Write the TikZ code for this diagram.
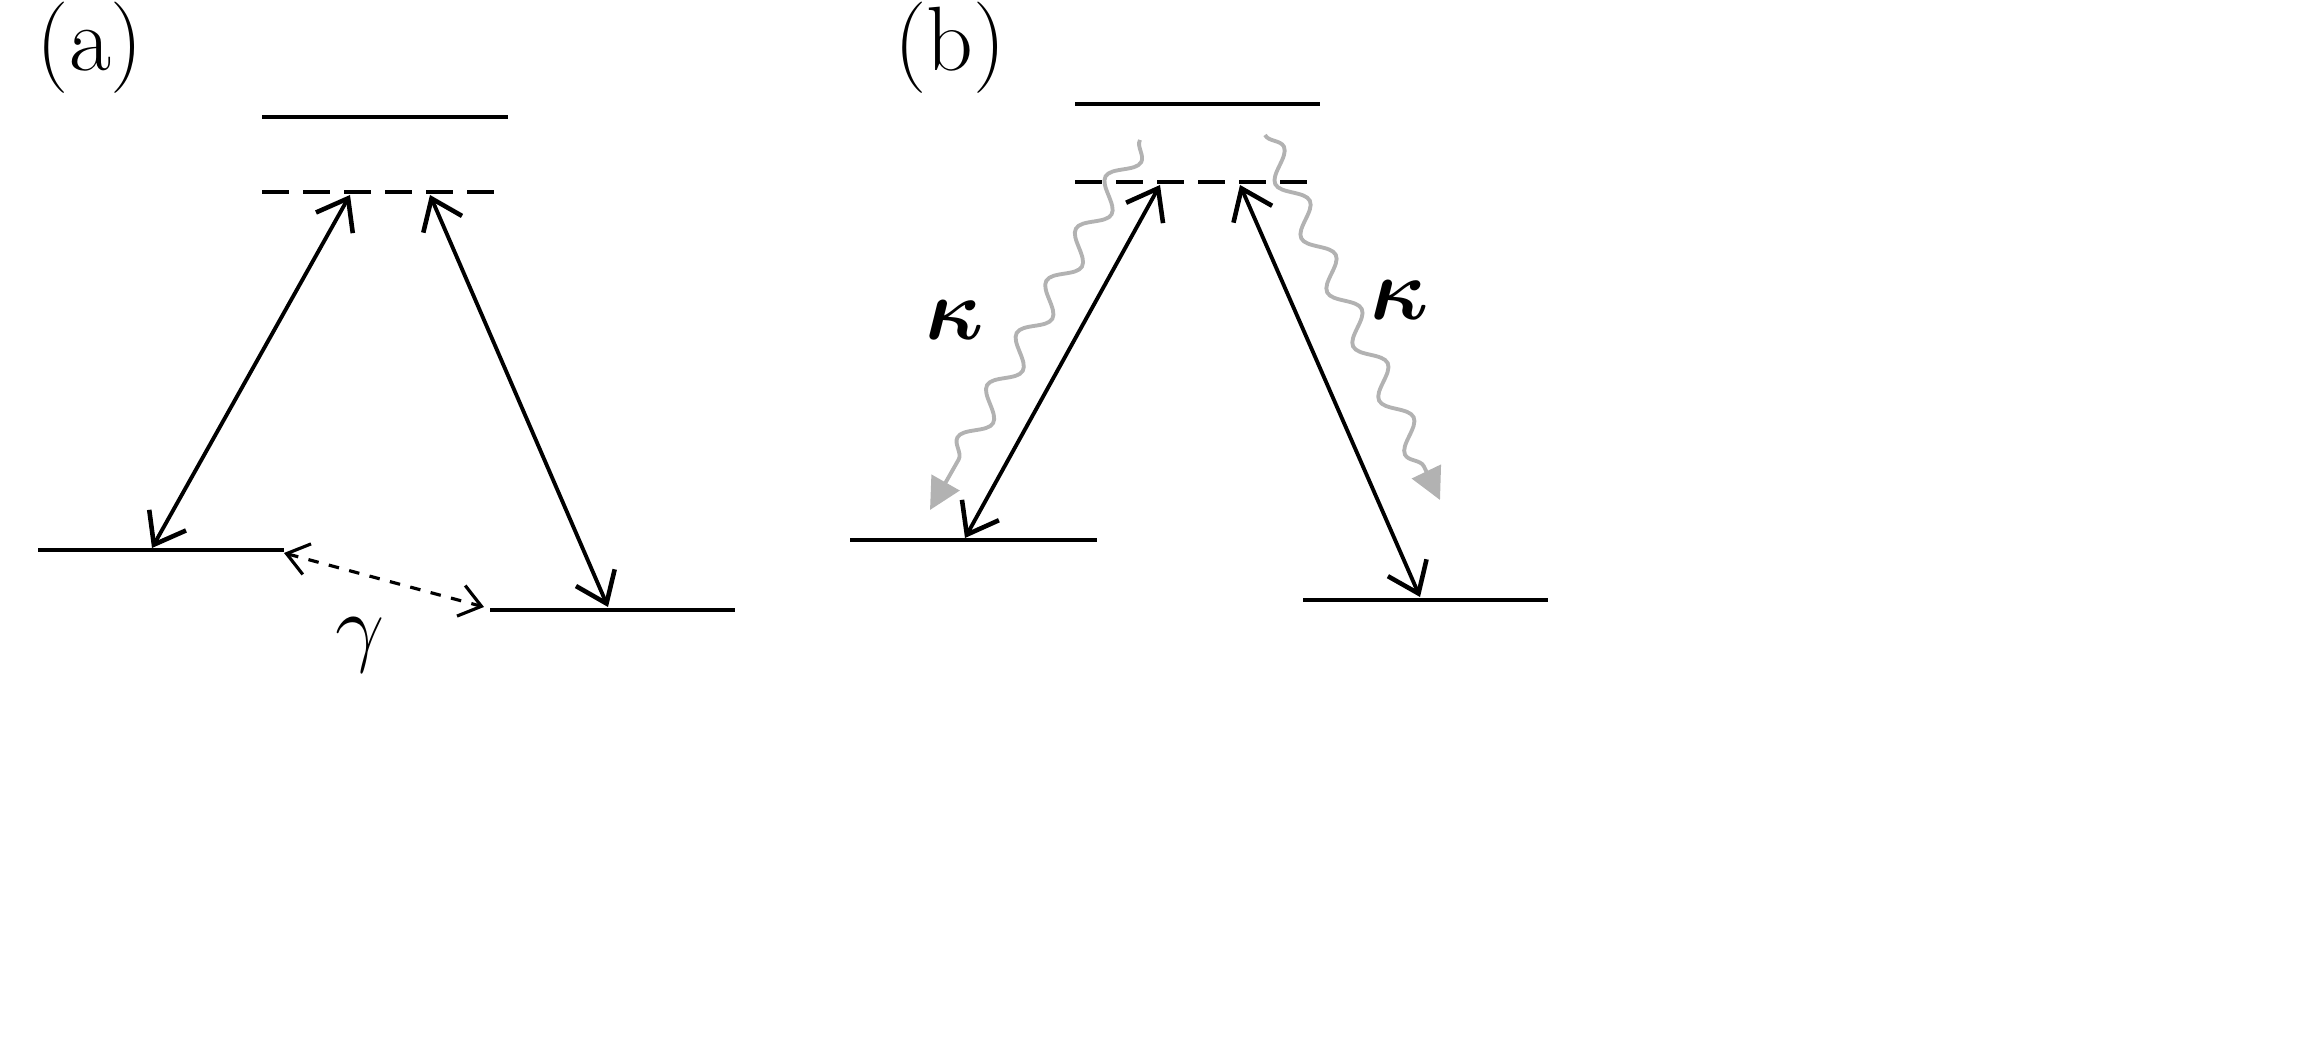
\documentclass[tikz,border=0pt]{standalone}
\usepackage{amsmath}
\usetikzlibrary{arrows.meta,decorations.pathmorphing}
\tikzset{
  level/.style={line width=1.2pt},
  virt/.style={line width=1.2pt, dash pattern=on 0.27cm off 0.14cm},
  pump/.style={line width=1.1pt, {Straight Barb[length=8pt,width=12pt,line width=1.3pt]}-{Straight Barb[length=8pt,width=12pt,line width=1.3pt]}},
  deph/.style={line width=0.9pt, dashed, {Straight Barb[length=6pt,width=9pt]}-{Straight Barb[length=6pt,width=9pt]}},
  decay/.style={gray!60, line width=1.1pt, -{Triangle[length=9pt,width=9pt]},
    decorate, decoration={snake, amplitude=1.2mm, segment length=6mm, post length=3mm}},
  lbl/.style={font=\fontsize{26}{30}\selectfont}
}
\begin{document}
\begin{tikzpicture}[x=1cm,y=1cm]
  \useasboundingbox (0,0) rectangle (23.13,10.40);
  % (a)
  \node[lbl] (la) at (0.9,9.92) {(a)};
  \draw [level] (2.62,9.23) -- (5.08,9.23);
  \draw [virt] (2.62,8.48) -- (5.00,8.48);
  \draw [level] (0.38,4.90) -- (2.84,4.90);
  \draw [level] (4.90,4.30) -- (7.35,4.30);
  \coordinate (ea) at (3.50,8.45);
  \coordinate (eb) at (4.30,8.45);
  \coordinate (ga) at (1.52,4.92);
  \coordinate (gb) at (6.08,4.33);
  \draw [pump] (ga) -- (ea);
  \draw [pump] (gb) -- (eb);
  \coordinate (da) at (2.84,4.87);
  \coordinate (db) at (4.84,4.33);
  \draw [deph] (da) -- (db);
  \node[lbl] (gam) at (3.60,3.95) {$\gamma$};
  % (b)
  \node[lbl] (lb) at (9.5,9.92) {(b)};
  \draw [level] (10.75,9.36) -- (13.20,9.36);
  \draw [virt] (10.75,8.58) -- (13.10,8.58);
  \draw [level] (8.50,5.00) -- (10.97,5.00);
  \draw [level] (13.03,4.40) -- (15.48,4.40);
  \coordinate (fa) at (11.60,8.55);
  \coordinate (fb) at (12.40,8.55);
  \coordinate (ha) at (9.65,5.02);
  \coordinate (hb) at (14.20,4.43);
  \draw [pump] (ha) -- (fa);
  \draw [pump] (hb) -- (fb);
  \draw [decay] (11.40,9.00) -- (9.30,5.30);
  \draw [decay] (12.65,9.05) -- (14.40,5.40);
  \node[lbl] (ka) at (9.55,7.20) {$\boldsymbol{\kappa}$};
  \node[lbl] (kb) at (14.00,7.40) {$\boldsymbol{\kappa}$};
\end{tikzpicture}
\end{document}
